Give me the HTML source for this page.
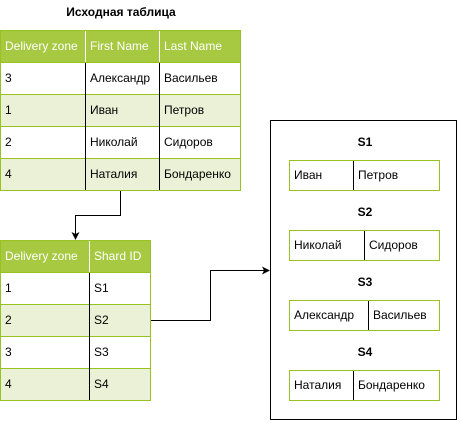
<!DOCTYPE html>
<html><head><meta charset="utf-8"><style>
body{margin:0;width:461px;height:422px;background:#fff;font-family:"Liberation Sans",Arial,sans-serif;}
svg text{font-family:"Liberation Sans",Arial,sans-serif;font-size:12px;}
</style></head><body>
<svg width="461" height="422" viewBox="0 0 461 422" xmlns="http://www.w3.org/2000/svg">
<text x="121" y="16" text-anchor="middle" font-weight="bold" style="font-size:12px">Исходная таблица</text>
<!-- top table -->
<rect x="0.5" y="30.5" width="240" height="32" fill="#a7c942"/>
<rect x="0.5" y="94.5" width="240" height="32" fill="#eaf1d6"/>
<rect x="0.5" y="158.5" width="240" height="32" fill="#eaf1d6"/>
<g stroke="#98c21f" stroke-width="1">
<line x1="0" y1="62.5" x2="241" y2="62.5"/><line x1="0" y1="94.5" x2="241" y2="94.5"/>
<line x1="0" y1="126.5" x2="241" y2="126.5"/><line x1="0" y1="158.5" x2="241" y2="158.5"/>
</g>
<line x1="85.5" y1="31" x2="85.5" y2="62" stroke="#fff"/>
<line x1="159.5" y1="31" x2="159.5" y2="62" stroke="#fff"/>
<line x1="85.5" y1="63" x2="85.5" y2="190" stroke="#000"/>
<line x1="159.5" y1="63" x2="159.5" y2="190" stroke="#000"/>
<rect x="0.5" y="30.5" width="240" height="160" fill="none" stroke="#98c21f"/>
<g fill="#fff"><text x="5" y="50">Delivery zone</text><text x="90" y="50">First Name</text><text x="164" y="50">Last Name</text></g>
<g fill="#000">
<text x="5" y="82">3</text><text x="90" y="82">Александр</text><text x="164" y="82">Васильев</text>
<text x="5" y="114">1</text><text x="90" y="114">Иван</text><text x="164" y="114">Петров</text>
<text x="5" y="146">2</text><text x="90" y="146">Николай</text><text x="164" y="146">Сидоров</text>
<text x="5" y="178">4</text><text x="90" y="178">Наталия</text><text x="164" y="178">Бондаренко</text>
</g>
<!-- connector 1 -->
<polyline points="120.5,191 120.5,215.5 75.5,215.5 75.5,234" fill="none" stroke="#000"/>
<polygon points="71.5,232 75.5,240 79.5,232 75.5,234" fill="#000"/>
<!-- bottom table -->
<rect x="0.5" y="240.5" width="150" height="32" fill="#a7c942"/>
<rect x="0.5" y="304.5" width="150" height="32" fill="#eaf1d6"/>
<rect x="0.5" y="368.5" width="150" height="32" fill="#eaf1d6"/>
<g stroke="#98c21f">
<line x1="0" y1="272.5" x2="151" y2="272.5"/><line x1="0" y1="304.5" x2="151" y2="304.5"/>
<line x1="0" y1="336.5" x2="151" y2="336.5"/><line x1="0" y1="368.5" x2="151" y2="368.5"/>
</g>
<line x1="89.5" y1="241" x2="89.5" y2="272" stroke="#fff"/>
<line x1="89.5" y1="273" x2="89.5" y2="400" stroke="#000"/>
<rect x="0.5" y="240.5" width="150" height="160" fill="none" stroke="#98c21f"/>
<g fill="#fff"><text x="5" y="260">Delivery zone</text><text x="94" y="260">Shard ID</text></g>
<g fill="#000">
<text x="5" y="292">1</text><text x="94" y="292">S1</text>
<text x="5" y="324">2</text><text x="94" y="324">S2</text>
<text x="5" y="356">3</text><text x="94" y="356">S3</text>
<text x="5" y="388">4</text><text x="94" y="388">S4</text>
</g>
<!-- connector 2 -->
<polyline points="151,320.5 210.5,320.5 210.5,270.5 265,270.5" fill="none" stroke="#000"/>
<polygon points="262,266.5 270,270.5 262,274.5 264,270.5" fill="#000"/>
<!-- right box -->
<rect x="270.5" y="120.5" width="186" height="299" fill="#fff" stroke="#000"/>
<g font-weight="bold" text-anchor="middle">
<text x="365" y="146">S1</text><text x="365" y="216">S2</text><text x="365" y="286">S3</text><text x="365" y="356">S4</text>
</g>
<g fill="none" stroke="#98c21f">
<rect x="289.5" y="160.5" width="150" height="30"/><rect x="289.5" y="230.5" width="150" height="30"/>
<rect x="289.5" y="300.5" width="150" height="30"/><rect x="289.5" y="370.5" width="150" height="30"/>
</g>
<g stroke="#000">
<line x1="353.5" y1="161" x2="353.5" y2="190"/><line x1="364.5" y1="231" x2="364.5" y2="260"/>
<line x1="368.5" y1="301" x2="368.5" y2="330"/><line x1="353.5" y1="371" x2="353.5" y2="400"/>
</g>
<g fill="#000">
<text x="294" y="179">Иван</text><text x="358" y="179">Петров</text>
<text x="294" y="249">Николай</text><text x="369" y="249">Сидоров</text>
<text x="294" y="319">Александр</text><text x="373" y="319">Васильев</text>
<text x="294" y="389">Наталия</text><text x="358" y="389">Бондаренко</text>
</g>
</svg>
</body></html>
